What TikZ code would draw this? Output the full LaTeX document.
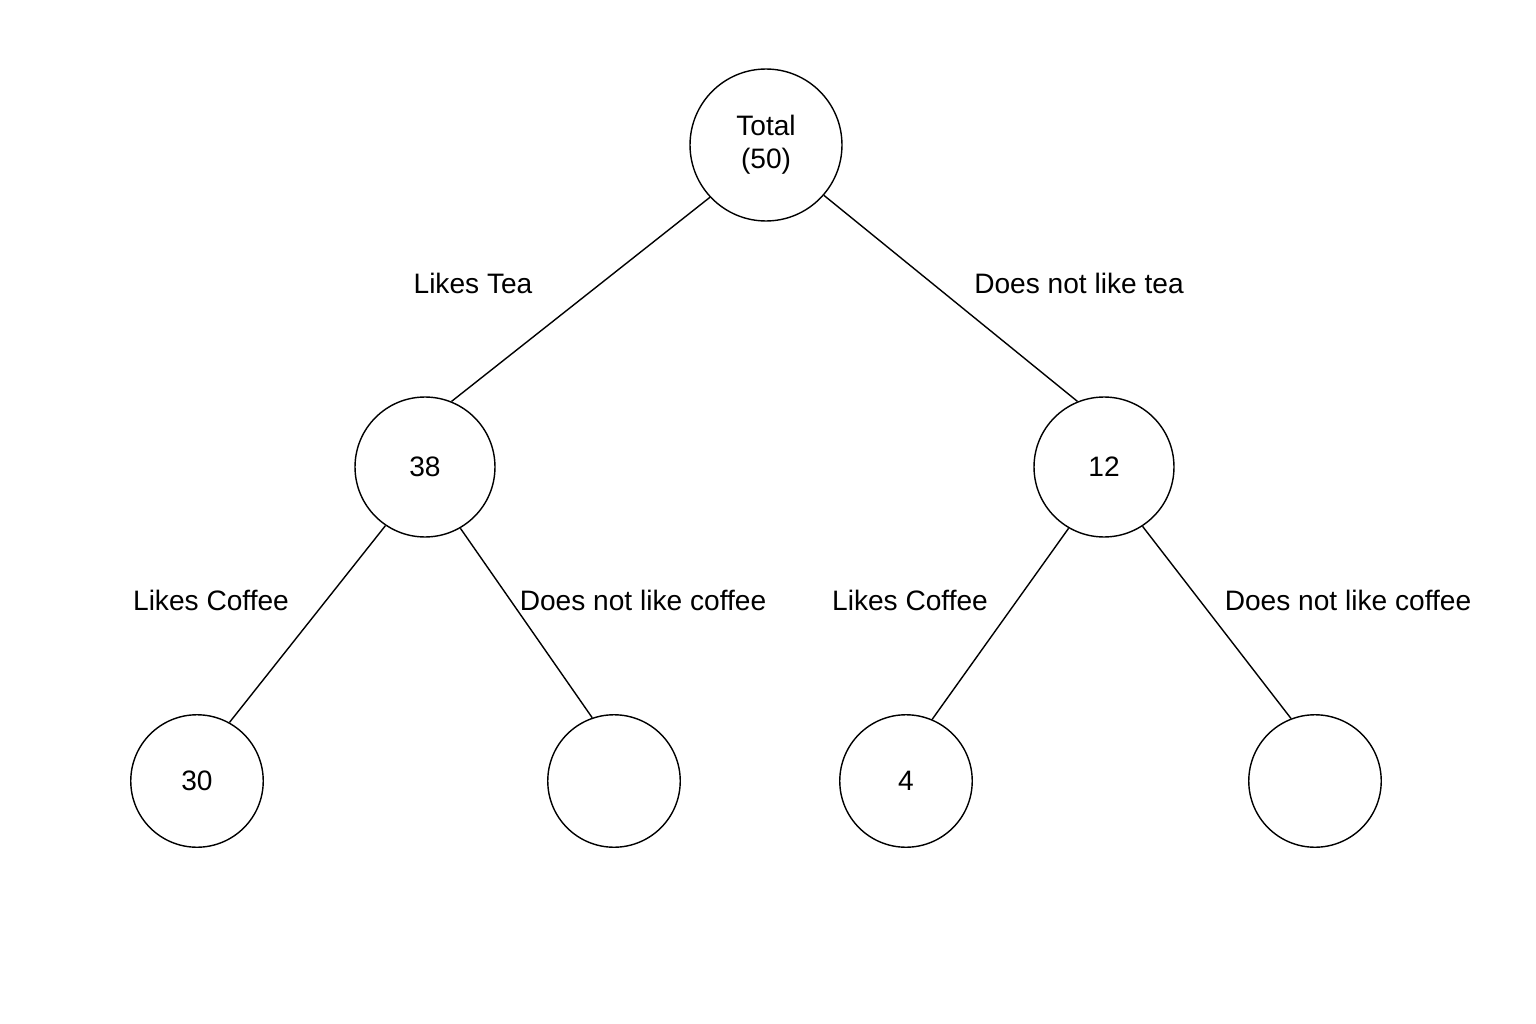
\documentclass[tikz,border=0pt]{standalone}
\usepackage{fontspec}
\setmainfont{Liberation Sans}
\usetikzlibrary{positioning}

\begin{document}
\begin{tikzpicture}[x=0.02cm,y=-0.02cm,
         count/.style = {circle,draw,thick,align=center,
         font=\fontsize{16}{19}\selectfont},
         branch/.style = {thick},
         choice/.style = {font=\fontsize{16}{19}\selectfont}]

   \useasboundingbox (0,0) rectangle (1536,1024);

   % counts
   \node[count,minimum size=3.04cm] (total) at (766,145) {Total\\(50)};
   \node[count,minimum size=2.8cm]  (tea)   at (425,467) {38};
   \node[count,minimum size=2.8cm]  (notea) at (1104,467) {12};

   \node[count,minimum size=2.65cm] (teacof)     at (197,781)  {30};
   \node[count,minimum size=2.65cm] (teanocof)   at (614,781)  {};
   \node[count,minimum size=2.65cm] (noteacof)   at (906,781)  {4};
   \node[count,minimum size=2.65cm] (noteanocof) at (1315,781) {};

   % branch labels
   \node[choice] (ltea)   at (473,283)  {Likes Tea};
   \node[choice] (lnotea) at (1079,283) {Does not like tea};
   \node[choice] (lc1)    at (211,600)  {Likes Coffee};
   \node[choice] (lnc1)   at (643,600)  {Does not like coffee};
   \node[choice] (lc2)    at (910,600)  {Likes Coffee};
   \node[choice] (lnc2)   at (1348,600) {Does not like coffee};

   % branches
   \draw[branch] (total.-137) -- (tea.68);
   \draw[branch] (total.-41) -- (notea.112);
   \draw[branch] (tea.-124) -- (teacof.61);
   \draw[branch] (tea.-60) -- (teanocof.109);
   \draw[branch] (notea.-120) -- (noteacof.67);
   \draw[branch] (notea.-57) -- (noteanocof.111);
\end{tikzpicture}
\end{document}
